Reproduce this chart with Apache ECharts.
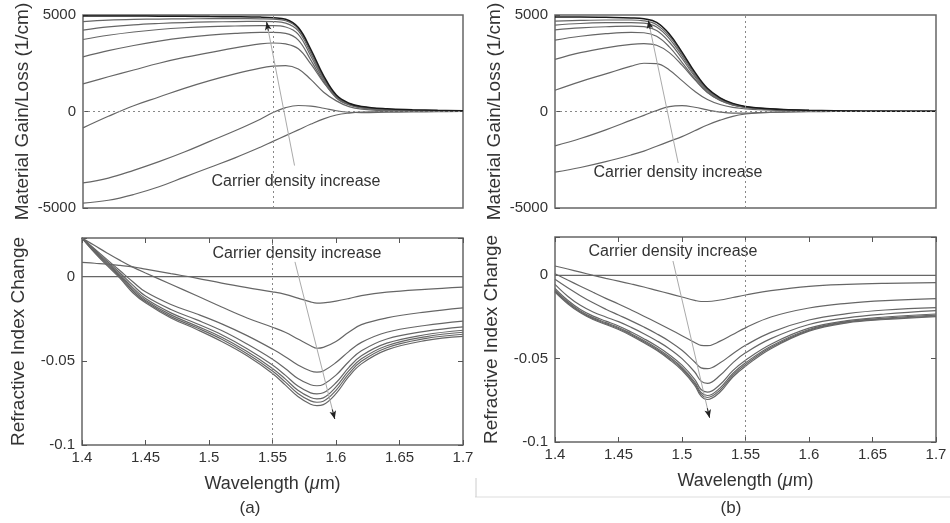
<!DOCTYPE html>
<html><head><meta charset="utf-8">
<script src="https://cdn.jsdelivr.net/npm/echarts/dist/echarts.min.js"></script>
<style>html,body{margin:0;padding:0;background:#fff}#c{width:950px;height:523px}</style>
</head><body><div id="c"></div><script>
// ---------- DATA ----------
const xTickValues = [1.4, 1.45, 1.5, 1.55, 1.6, 1.65, 1.7];
const gainTickValues = [-5000, 0, 5000];
const indexTickValues = [-0.1, -0.05, 0];
const markWavelength = 1.55;
const annotationText = 'Carrier density increase';

// (a) material gain
const wlGainA = [1.40,1.42,1.44,1.46,1.48,1.50,1.52,1.54,1.55,1.56,1.57,1.58,1.59,1.60,1.61,1.62,1.64,1.66,1.68,1.70];
const gainA1 = [-4750,-4600,-4300,-3900,-3400,-2900,-2400,-1850,-1550,-1250,-950,-650,-380,-180,-80,-30,-5,0,0,0];
const gainA2 = [-3700,-3450,-3050,-2600,-2100,-1550,-1000,-400,-50,200,310,280,170,40,-40,-60,-40,-20,-10,0];
const gainA3 = [-850,-250,300,750,1200,1600,1950,2250,2350,2380,2200,1650,1000,550,250,120,30,10,0,0];
const gainA4 = [1430,1800,2150,2500,2800,3050,3300,3500,3550,3500,3250,2450,1500,750,380,200,80,40,20,10];
const gainA5 = [2830,3150,3420,3650,3830,3960,4050,4100,4100,4050,3700,2650,1550,700,340,180,80,45,25,15];
const gainA6 = [3730,3950,4120,4250,4340,4400,4430,4450,4450,4380,4000,2850,1650,750,360,200,90,50,30,20];
const gainA7 = [4220,4380,4490,4560,4610,4640,4660,4670,4660,4580,4180,3000,1720,780,390,220,100,60,35,25];
const gainA8 = [4660,4730,4770,4790,4800,4810,4810,4800,4780,4700,4280,3100,1780,810,410,240,120,70,45,30];
const gainA9 = [4950,4950,4950,4940,4930,4920,4910,4890,4860,4780,4350,3200,1850,850,430,260,140,90,60,40];

// (b) material gain
const wlGainB = [1.40,1.42,1.44,1.46,1.47,1.48,1.49,1.50,1.51,1.52,1.53,1.54,1.55,1.56,1.58,1.60,1.62,1.64,1.67,1.70];
const gainB1 = [-3140,-2900,-2600,-2250,-2050,-1800,-1550,-1300,-1000,-700,-450,-250,-130,-70,-20,0,0,0,0,0];
const gainB2 = [-1780,-1400,-950,-450,-200,50,250,300,220,80,-30,-80,-80,-60,-30,-10,0,0,0,0];
const gainB3 = [1100,1550,1950,2350,2500,2480,2150,1600,1050,620,360,210,140,90,40,20,10,5,0,0];
const gainB4 = [2700,3050,3300,3480,3520,3430,3050,2400,1650,980,570,330,210,145,72,42,26,16,8,5];
const gainB5 = [3700,3900,4030,4100,4080,3900,3350,2550,1700,1000,580,340,220,150,80,45,28,18,10,6];
const gainB6 = [4230,4330,4390,4420,4400,4200,3600,2750,1820,1070,620,360,230,160,85,50,32,20,12,8];
const gainB7 = [4480,4560,4600,4610,4580,4380,3780,2880,1900,1120,650,380,240,170,90,55,35,22,14,9];
const gainB8 = [4680,4720,4740,4740,4700,4500,3900,2980,1970,1160,680,400,250,175,95,58,38,24,15,10];
const gainB9 = [4900,4900,4880,4850,4800,4620,4020,3080,2050,1200,710,420,260,180,100,60,40,25,15,10];

// (a) refractive index change
const wlIdxA = [1.40,1.41,1.42,1.43,1.44,1.45,1.47,1.49,1.51,1.53,1.55,1.56,1.57,1.58,1.585,1.59,1.60,1.61,1.62,1.64,1.67,1.70];
const idxA0 = [0,0,0,0,0,0,0,0,0,0,0,0,0,0,0,0,0,0,0,0,0,0];
const idxA1 = [0.0085,0.0080,0.0075,0.0067,0.0058,0.0045,0.0018,-0.0008,-0.0038,-0.0065,-0.0090,-0.0105,-0.0127,-0.0150,-0.0157,-0.0155,-0.0145,-0.0130,-0.0112,-0.0092,-0.0075,-0.0062];
const idxA2 = [0.0230,0.0185,0.0140,0.0097,0.0057,0.0022,-0.0045,-0.0112,-0.0180,-0.0245,-0.0300,-0.0330,-0.0370,-0.0410,-0.0425,-0.0420,-0.0385,-0.0330,-0.0285,-0.0245,-0.0210,-0.0185];
const idxA3 = [0.0230,0.0165,0.0100,0.0035,-0.0030,-0.0090,-0.0165,-0.0220,-0.0280,-0.0350,-0.0430,-0.0475,-0.0525,-0.0560,-0.0567,-0.0560,-0.0510,-0.0445,-0.0390,-0.0330,-0.0290,-0.0264];
const idxA4 = [0.0230,0.0160,0.0090,0.0022,-0.0050,-0.0115,-0.0195,-0.0255,-0.0320,-0.0400,-0.0490,-0.0545,-0.0605,-0.0642,-0.0648,-0.0640,-0.0585,-0.0505,-0.0440,-0.0370,-0.0325,-0.0298];
const idxA5 = [0.0230,0.0155,0.0082,0.0012,-0.0065,-0.0130,-0.0215,-0.0278,-0.0345,-0.0428,-0.0525,-0.0585,-0.0650,-0.0690,-0.0696,-0.0690,-0.0630,-0.0540,-0.0470,-0.0395,-0.0345,-0.0318];
const idxA6 = [0.0230,0.0150,0.0076,0.0004,-0.0075,-0.0140,-0.0227,-0.0292,-0.0360,-0.0445,-0.0545,-0.0607,-0.0675,-0.0718,-0.0726,-0.0720,-0.0655,-0.0560,-0.0488,-0.0410,-0.0357,-0.0330];
const idxA7 = [0.0230,0.0146,0.0070,-0.0003,-0.0085,-0.0148,-0.0237,-0.0302,-0.0372,-0.0458,-0.0560,-0.0625,-0.0694,-0.0738,-0.0746,-0.0740,-0.0675,-0.0577,-0.0503,-0.0422,-0.0368,-0.0342];
const idxA8 = [0.0230,0.0142,0.0064,-0.0010,-0.0095,-0.0155,-0.0245,-0.0312,-0.0385,-0.0470,-0.0575,-0.0643,-0.0712,-0.0758,-0.0766,-0.0760,-0.0695,-0.0594,-0.0518,-0.0435,-0.0380,-0.0355];

// (b) refractive index change
const wlIdxB = [1.40,1.41,1.42,1.43,1.44,1.45,1.46,1.47,1.48,1.49,1.50,1.51,1.515,1.52,1.53,1.54,1.55,1.57,1.60,1.63,1.66,1.70];
const idxB0 = [0,0,0,0,0,0,0,0,0,0,0,0,0,0,0,0,0,0,0,0,0,0];
const idxB1 = [0.0056,0.0038,0.0019,0.0000,-0.0018,-0.0035,-0.0052,-0.0070,-0.0090,-0.0110,-0.0130,-0.0150,-0.0157,-0.0157,-0.0148,-0.0133,-0.0118,-0.0092,-0.0066,-0.0054,-0.0048,-0.0044];
const idxB2 = [0.0010,-0.0028,-0.0065,-0.0102,-0.0138,-0.0172,-0.0208,-0.0245,-0.0283,-0.0322,-0.0362,-0.0403,-0.0420,-0.0422,-0.0395,-0.0355,-0.0315,-0.0250,-0.0196,-0.0168,-0.0152,-0.0140];
const idxB3 = [-0.0024,-0.0075,-0.0122,-0.0165,-0.0203,-0.0238,-0.0273,-0.0310,-0.0350,-0.0395,-0.0450,-0.0520,-0.0555,-0.0560,-0.0525,-0.0470,-0.0420,-0.0342,-0.0268,-0.0230,-0.0208,-0.0194];
const idxB4 = [-0.0054,-0.0125,-0.0180,-0.0220,-0.0250,-0.0278,-0.0312,-0.0350,-0.0392,-0.0440,-0.0500,-0.0580,-0.0635,-0.0648,-0.0600,-0.0525,-0.0465,-0.0380,-0.0295,-0.0255,-0.0232,-0.0212];
const idxB5 = [-0.0079,-0.0150,-0.0205,-0.0245,-0.0275,-0.0304,-0.0340,-0.0380,-0.0424,-0.0476,-0.0539,-0.0624,-0.0685,-0.0701,-0.0655,-0.0572,-0.0509,-0.0413,-0.0317,-0.0272,-0.0250,-0.0232];
const idxB6 = [-0.0089,-0.0159,-0.0214,-0.0254,-0.0284,-0.0313,-0.0350,-0.0391,-0.0436,-0.0489,-0.0553,-0.0640,-0.0703,-0.0721,-0.0675,-0.0589,-0.0525,-0.0425,-0.0325,-0.0278,-0.0257,-0.0239];
const idxB7 = [-0.0094,-0.0165,-0.0220,-0.0260,-0.0290,-0.0319,-0.0356,-0.0398,-0.0443,-0.0497,-0.0562,-0.0650,-0.0714,-0.0733,-0.0688,-0.0600,-0.0535,-0.0433,-0.0330,-0.0281,-0.0261,-0.0244];
const idxB8 = [-0.0100,-0.0170,-0.0225,-0.0265,-0.0295,-0.0325,-0.0362,-0.0405,-0.0450,-0.0505,-0.0570,-0.0660,-0.0725,-0.0745,-0.0700,-0.0610,-0.0545,-0.0440,-0.0335,-0.0285,-0.0265,-0.0248];

// annotation arrows (tail, head) in data coordinates
const arrowGainA = [[1.567, -2800], [1.545, 4630]];
const arrowGainB = [[1.497, -2670], [1.4735, 4710]];
const arrowIdxA = [[1.5677, 0.0088], [1.599, -0.0845]];
const arrowIdxB = [[1.4929, 0.0086], [1.5217, -0.0854]];

// ---------- CHART ----------
const FONT = 'Liberation Sans, Arial, sans-serif';
const TXT = '#333';
const pairs = (xs, ys) => xs.map((x, i) => [x, ys[i]]);
const chart = echarts.init(document.getElementById('c'), null, {renderer: 'canvas'});

const gainSetsA = [gainA1,gainA2,gainA3,gainA4,gainA5,gainA6,gainA7,gainA8,gainA9];
const gainSetsB = [gainB1,gainB2,gainB3,gainB4,gainB5,gainB6,gainB7,gainB8,gainB9];
const idxSetsA = [idxA0,idxA1,idxA2,idxA3,idxA4,idxA5,idxA6,idxA7,idxA8];
const idxSetsB = [idxB0,idxB1,idxB2,idxB3,idxB4,idxB5,idxB6,idxB7,idxB8];

function arrowLines(arrow) {
  const [t, h] = arrow;
  const f = 0.06;
  const near = [h[0] + (t[0] - h[0]) * f, h[1] + (t[1] - h[1]) * f];
  return [
    [{coord: t, symbol: 'none', lineStyle: {color: '#aaa', width: 1, type: 'solid'}}, {coord: h, symbol: 'none'}],
    [{coord: near, symbol: 'none', lineStyle: {color: '#222', width: 1, type: 'solid'}}, {coord: h, symbol: 'arrow', symbolSize: [5, 8]}]
  ];
}

const series = [];
function addCurves(sets, wl, axisIdx, kind, arrow) {
  sets.forEach((ys, k) => {
    const top = kind === 'gain' && k === sets.length - 1;
    const s = {
      type: 'line', xAxisIndex: axisIdx, yAxisIndex: axisIdx,
      data: pairs(wl, ys), showSymbol: false, symbol: 'none',
      smooth: 0.4, silent: true, animation: false,
      lineStyle: {color: top ? '#1a1a1a' : '#666', width: top ? 1.5 : 1.2},
      z: top ? 3 : 2
    };
    if (k === 0) {
      const ml = [[{coord: [markWavelength, kind === 'gain' ? -5000 : -0.1]}, {coord: [markWavelength, kind === 'gain' ? 5000 : 0.023]}]];
      if (kind === 'gain') ml.push([{coord: [1.4, 0]}, {coord: [1.7, 0]}]);
      s.markLine = {
        silent: true, symbol: ['none', 'none'], label: {show: false}, animation: false,
        lineStyle: {color: '#888', width: 1, type: [2, 3]},
        data: ml.concat(arrowLines(arrow))
      };
    }
    series.push(s);
  });
}
addCurves(gainSetsA, wlGainA, 0, 'gain', arrowGainA);
addCurves(idxSetsA, wlIdxA, 1, 'idx', arrowIdxA);
addCurves(gainSetsB, wlGainB, 2, 'gain', arrowGainB);
addCurves(idxSetsB, wlIdxB, 3, 'idx', arrowIdxB);

const xFmt = v => String(Math.round(v * 100) / 100);
const idxFmt = v => {
  if (Math.abs(v / 0.05 - Math.round(v / 0.05)) > 1e-6) return '';
  const r = Math.round(v * 100) / 100;
  return r === 0 ? '0' : String(r);
};
const gainFmt = v => (gainTickValues.indexOf(Math.round(v)) >= 0 ? String(Math.round(v)) : '');

const tickStyle = {show: true, inside: true, length: 5, lineStyle: {color: '#555', width: 1}};
const noTick = {show: false};
const label15 = {color: TXT, fontSize: 15, fontFamily: FONT};

function xAx(grid, withLabels, pos) {
  return {
    type: 'value', gridIndex: grid, min: 1.4, max: 1.7, interval: 0.05, position: pos || 'bottom',
    axisLine: {show: false, onZero: false}, splitLine: {show: false},
    axisTick: withLabels || pos === 'top' ? tickStyle : noTick,
    axisLabel: withLabels ? Object.assign({margin: 5, formatter: xFmt}, label15) : {show: false},
    name: withLabels ? 'Wavelength ({i|μ}m)' : '', nameLocation: 'middle', nameGap: 30,
    nameTextStyle: {color: TXT, fontSize: 18, fontFamily: FONT, verticalAlign: 'top',
      rich: {i: {fontStyle: 'italic', fontSize: 18, fontFamily: FONT, color: TXT}}}
  };
}
function yAxGain(grid, name) {
  return {
    type: 'value', gridIndex: grid, min: -5000, max: 5000, interval: 5000, position: 'left',
    axisLine: {show: false, onZero: false}, splitLine: {show: false}, axisTick: tickStyle,
    axisLabel: Object.assign({margin: 7, formatter: gainFmt}, label15),
    name: name, nameLocation: 'middle', nameGap: 51,
    nameTextStyle: {color: TXT, fontSize: 19, fontFamily: FONT}
  };
}
function yAxIdx(grid, name, pos) {
  const main = pos !== 'right';
  return {
    type: 'value', gridIndex: grid, min: -0.1, max: 0.023, interval: 0.05, position: pos || 'left',
    axisLine: {show: false, onZero: false}, splitLine: {show: false}, axisTick: tickStyle,
    axisLabel: main ? Object.assign({margin: 7, formatter: idxFmt}, label15) : {show: false},
    name: main ? name : '', nameLocation: 'middle', nameGap: 54,
    nameTextStyle: {color: TXT, fontSize: 19, fontFamily: FONT}
  };
}

const gridStyle = {show: true, borderColor: '#666', borderWidth: 1.5, backgroundColor: 'transparent', containLabel: false};
const option = {
  animation: false,
  backgroundColor: '#fff',
  grid: [
    Object.assign({left: 83, top: 15, width: 380, height: 193}, gridStyle),
    Object.assign({left: 82, top: 238, width: 381, height: 207}, gridStyle),
    Object.assign({left: 555, top: 15, width: 381, height: 193}, gridStyle),
    Object.assign({left: 555, top: 237, width: 381, height: 205}, gridStyle)
  ],
  xAxis: [xAx(0, false), xAx(1, true), xAx(2, false), xAx(3, true), xAx(1, false, 'top'), xAx(3, false, 'top')],
  yAxis: [
    yAxGain(0, 'Material Gain/Loss (1/cm)'),
    yAxIdx(1, 'Refractive Index Change'),
    yAxGain(2, 'Material Gain/Loss (1/cm)'),
    yAxIdx(3, 'Refractive Index Change'),
    yAxIdx(1, '', 'right'),
    yAxIdx(3, '', 'right')
  ],
  series: series,
  graphic: [
    {type: 'text', x: 296, y: 182, style: {text: annotationText, fill: TXT, font: '16px ' + FONT, textAlign: 'center', textVerticalAlign: 'middle'}, silent: true},
    {type: 'text', x: 678, y: 173, style: {text: annotationText, fill: TXT, font: '16px ' + FONT, textAlign: 'center', textVerticalAlign: 'middle'}, silent: true},
    {type: 'text', x: 297, y: 254, style: {text: annotationText, fill: TXT, font: '16px ' + FONT, textAlign: 'center', textVerticalAlign: 'middle'}, silent: true},
    {type: 'text', x: 673, y: 252, style: {text: annotationText, fill: TXT, font: '16px ' + FONT, textAlign: 'center', textVerticalAlign: 'middle'}, silent: true},
    {type: 'text', x: 250, y: 508, style: {text: '(a)', fill: TXT, font: '17px ' + FONT, textAlign: 'center', textVerticalAlign: 'middle'}, silent: true},
    {type: 'text', x: 731, y: 508, style: {text: '(b)', fill: TXT, font: '17px ' + FONT, textAlign: 'center', textVerticalAlign: 'middle'}, silent: true},
    {type: 'line', shape: {x1: 475, y1: 497, x2: 950, y2: 497}, style: {stroke: '#ddd', lineWidth: 1}, silent: true},
    {type: 'line', shape: {x1: 476, y1: 478, x2: 476, y2: 497}, style: {stroke: '#ccc', lineWidth: 1}, silent: true}
  ]
};
chart.setOption(option);
</script></body></html>
